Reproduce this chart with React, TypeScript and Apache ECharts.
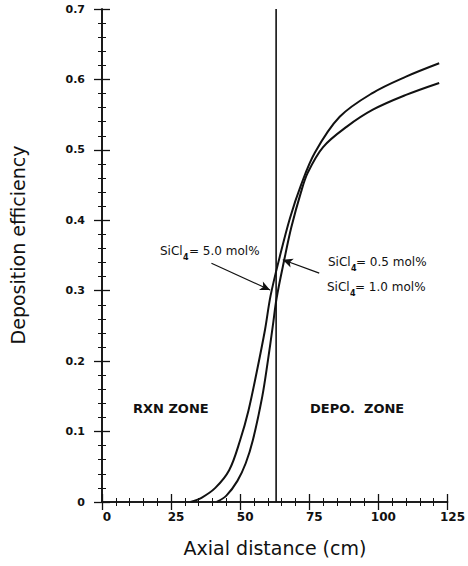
import React, { useEffect, useRef } from "react";
import * as echarts from "echarts";

// Axis ranges / ticks
const xMin = 0;
const xMax = 125;
const xInterval = 25;
const yMin = 0;
const yMax = 0.7;
const yInterval = 0.1;

// Curve that rises first (5.0 mol%) and ends higher
const curveAX = [32, 36, 41, 46, 50, 53, 56, 59, 61, 64.3, 68, 72, 77, 86, 98, 110, 122];
const curveAY = [0, 0.006, 0.02, 0.045, 0.088, 0.13, 0.185, 0.245, 0.293, 0.348, 0.403, 0.45, 0.496, 0.547, 0.581, 0.604, 0.623];

// Curve that rises later (0.5 / 1.0 mol%) and ends lower
const curveBX = [41.5, 45, 49, 52, 54.6, 58, 60, 61.8, 63.2, 66, 68.5, 72, 74.5, 80, 88.6, 98, 110, 122];
const curveBY = [0, 0.009, 0.03, 0.055, 0.088, 0.15, 0.2, 0.25, 0.29, 0.345, 0.39, 0.44, 0.468, 0.504, 0.533, 0.557, 0.578, 0.595];

// Zone boundary
const boundaryX = 63;

// Arrows [fromX, fromY, toX, toY]
const arrow50 = [39.6, 0.339, 60.8, 0.301];
const arrow05 = [78.6, 0.325, 65.4, 0.344];

const FONT = "DejaVu Sans";
const INK = "#111";

function pairs(xs: number[], ys: number[]) {
  return xs.map((x, i) => [x, ys[i]]);
}

function sicl(x: number, y: number, rest: string, restX: number) {
  return [
    { type: "text", left: x, top: y - 7, style: { text: "SiCl", fill: INK, font: `12px ${FONT}` } },
    { type: "text", left: x + 23, top: y + 1, style: { text: "4", fill: INK, font: `bold 8px ${FONT}` } },
    { type: "text", left: restX, top: y - 7, style: { text: rest, fill: INK, font: `12px ${FONT}` } },
  ];
}

export default function App() {
  const ref = useRef<HTMLDivElement>(null);
  useEffect(() => {
    if (!ref.current) return;
    const chart = echarts.init(ref.current, null, { renderer: "svg" });
    const axisLine = { show: true, lineStyle: { color: INK, width: 1.6 } };
    const tick = { show: true, inside: true, length: 8, lineStyle: { color: INK, width: 1.3 } };
    const minor = { show: true, splitNumber: 5, length: 4, lineStyle: { color: INK, width: 1 } };
    const option: any = {
      animation: false,
      backgroundColor: "#fff",
      grid: { left: 102, top: 9, right: 16, bottom: 64, containLabel: false },
      xAxis: [
        {
          type: "value",
          min: xMin,
          max: xMax,
          interval: xInterval,
          axisLine,
          axisTick: tick,
          minorTick: minor,
          splitLine: { show: false },
          axisLabel: {
            color: INK,
            fontFamily: FONT,
            fontSize: 12,
            fontWeight: "bold",
            margin: 9,
            padding: [0, 0, 0, 10],
          },
        },
        {
          type: "value",
          position: "top",
          min: xMin,
          max: xMax,
          interval: xInterval,
          axisLine,
          axisTick: tick,
          minorTick: minor,
          splitLine: { show: false },
          axisLabel: { show: false },
        },
      ],
      yAxis: [
        {
          type: "value",
          min: yMin,
          max: yMax,
          interval: yInterval,
          axisLine,
          axisTick: tick,
          minorTick: minor,
          splitLine: { show: false },
          axisLabel: {
            color: INK,
            fontFamily: FONT,
            fontSize: 11,
            fontWeight: "bold",
            margin: 17,
            padding: [8, 0, 0, 0],
            formatter: (v: number) => (v === 0 ? "0" : v.toFixed(1)),
          },
        },
        {
          type: "value",
          position: "right",
          min: yMin,
          max: yMax,
          interval: yInterval,
          axisLine,
          axisTick: tick,
          minorTick: minor,
          splitLine: { show: false },
          axisLabel: { show: false },
        },
      ],
      series: [
        {
          type: "line",
          name: "SiCl4 = 5.0 mol%",
          data: pairs(curveAX, curveAY),
          smooth: 0.35,
          showSymbol: false,
          lineStyle: { color: INK, width: 2 },
          silent: true,
        },
        {
          type: "line",
          name: "SiCl4 = 0.5 / 1.0 mol%",
          data: pairs(curveBX, curveBY),
          smooth: 0.35,
          showSymbol: false,
          lineStyle: { color: INK, width: 2 },
          silent: true,
        },
        {
          type: "line",
          name: "boundary",
          data: [
            [boundaryX, yMin],
            [boundaryX, yMax],
          ],
          showSymbol: false,
          lineStyle: { color: INK, width: 1.6 },
          silent: true,
          markLine: {
            silent: true,
            symbol: ["none", "arrow"],
            symbolSize: [7, 10],
            label: { show: false },
            lineStyle: { color: INK, width: 1.2, type: "solid" },
            data: [
              [{ coord: [arrow50[0], arrow50[1]] }, { coord: [arrow50[2], arrow50[3]] }],
              [{ coord: [arrow05[0], arrow05[1]] }, { coord: [arrow05[2], arrow05[3]] }],
            ],
          },
        },
      ],
      graphic: [
        { type: "text", left: 133, top: 402, style: { text: "RXN ZONE", fill: INK, font: `bold 13px ${FONT}` } },
        { type: "text", left: 310, top: 402, style: { text: "DEPO.  ZONE", fill: INK, font: `bold 13px ${FONT}` } },
        ...sicl(160, 252, "= 5.0 mol%", 189),
        ...sicl(328, 263, "= 0.5 mol%", 356),
        ...sicl(327, 288, "= 1.0 mol%", 355),
        {
          type: "text",
          x: 275,
          y: 548,
          style: {
            text: "Axial distance (cm)",
            fill: INK,
            font: `19px ${FONT}`,
            align: "center",
            verticalAlign: "middle",
          },
        },
        {
          type: "text",
          x: 18,
          y: 245,
          rotation: Math.PI / 2,
          style: {
            text: "Deposition efficiency",
            fill: INK,
            font: `19px ${FONT}`,
            align: "center",
            verticalAlign: "middle",
          },
        },
      ],
    };
    chart.setOption(option);
    return () => chart.dispose();
  }, []);
  return (
    <div
      ref={ref}
      style={{ position: "absolute", left: 0, top: 0, width: 468, height: 566, background: "#fff" }}
    />
  );
}
